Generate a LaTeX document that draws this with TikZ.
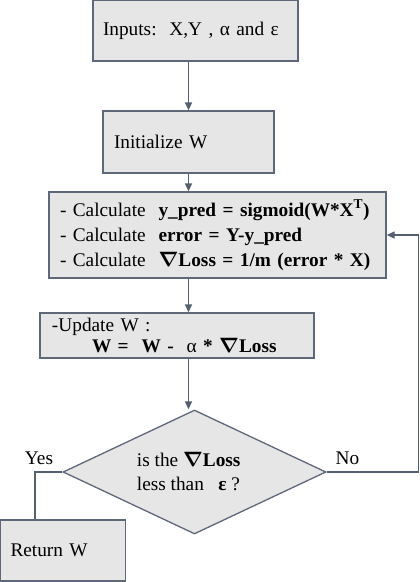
\documentclass[tikz,border=0pt]{standalone}
\usepackage{fontspec}
\setmainfont{Liberation Serif}
\usetikzlibrary{shapes.geometric,arrows.meta}
\definecolor{boxfill}{RGB}{230,230,230}
\definecolor{boxline}{RGB}{95,104,120}
\definecolor{arrowc}{RGB}{85,95,112}
\newcommand\nab{\mbox{\boldmath$\nabla$}}
\begin{document}
\begin{tikzpicture}[x=1pt,y=-1pt,
  font=\fontsize{19.3}{24}\selectfont,
  box/.style={draw=boxline, fill=boxfill, line width=1.3pt, rectangle, inner ysep=0pt, align=left},
  conn/.style={draw=arrowc, line width=1.3pt},
  arr/.style={conn, -{Triangle[width=7pt,length=8pt]}}]
\useasboundingbox (0,0) rectangle (420,582);
\node[box, minimum width=205pt, minimum height=61pt, text width=185pt, inner xsep=10pt] (b1) at (195.5,30.5) {Inputs:\ \ X,Y , α and ε};
\node[box, minimum width=171pt, minimum height=62pt, text width=149pt, inner xsep=11pt] (b2) at (188.5,142) {Initialize W};
\node[box, minimum width=337pt, minimum height=86pt, text width=315pt, inner xsep=11pt, font=\fontsize{19.3}{25}\selectfont] (b3) at (217.5,235)
  {- Calculate\ \ \textbf{y\_pred = sigmoid(W*X\textsuperscript{T})}\\
   - Calculate\ \ \textbf{error = Y-y\_pred}\\
   - Calculate\ \ \textbf{\nab Loss = 1/m (error * X)}};
\node[box, minimum width=274pt, minimum height=45pt, text width=250pt, inner xsep=12pt, font=\fontsize{19.3}{21}\selectfont] (b4) at (177,335.5)
  {-Update W :\\ \hspace*{40pt}\textbf{W =\ \ W -\ \ }α\textbf{ * \nab Loss}};
\node[diamond, draw=boxline, fill=boxfill, line width=1.3pt, minimum width=263pt, minimum height=124pt, aspect=2.12, inner sep=0pt, align=left] (d) at (194.5,472)
  {is the \textbf{\nab Loss}\\less than\ \ \ \textbf{ε} ?\hspace*{12pt}};
\node[box, minimum width=125pt, minimum height=61pt, text width=105pt, inner xsep=10pt] (ret) at (63,550.5) {Return W};
\node (yes) at (39,458) {Yes};
\node (no) at (347.5,458) {No};
\draw[arr] (b1.south -| b2.north) -- (b2.north);
\draw[arr] (b2.south) -- (b2.south |- b3.north);
\draw[arr] (b3.south -| b2.south) -- (b2.south |- b4.north);
\draw[arr] (b4.south -| b2.south) -- (b2.south |- d.north);
\coordinate (yc) at (35,472);
\draw[conn] (d.west) -- (yc) -- (yc |- ret.north);
\coordinate (nc) at (418.5,472);
\draw[arr] (d.east) -- (nc) |- (b3.east);
\end{tikzpicture}
\end{document}
